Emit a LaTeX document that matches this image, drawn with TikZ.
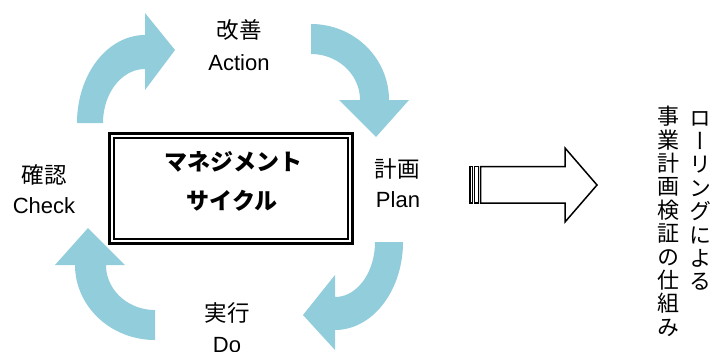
\documentclass[tikz,border=0pt]{standalone}
\usepackage{fontspec}
\setmainfont{Liberation Sans}
\newfontfamily\jp{Noto Sans CJK JP}
\newfontfamily\jpv[RawFeature=+vert]{Noto Sans CJK JP}
\definecolor{cyc}{RGB}{146,205,220}
\begin{document}
\begin{tikzpicture}[x=1pt,y=-1pt,
  lab/.style={inner sep=0pt, font=\fontsize{22}{24}\selectfont},
  jlab/.style={inner sep=0pt, font=\jp\fontsize{22.5}{24}\selectfont},
  core/.style={inner sep=0pt, font=\jp\bfseries\fontsize{23}{24}\selectfont},
  vtext/.style={inner sep=0pt, align=center, font=\jpv\fontsize{22}{23.4}\selectfont},
  cycarrow/.style={fill=cyc, draw=none},
  outline/.style={draw=black, line width=1.5pt, fill=white, line join=miter}]
\useasboundingbox (0,0) rectangle (714,351);
% curved arrows
\fill[cycarrow] plot[domain=180:270,samples=40] ({145+68*cos(\x)},{123+88*sin(\x)})
  -- (145,13) -- (175,50) -- (145,90)
  -- plot[domain=270:180,samples=40] ({145+42*cos(\x)},{123+54*sin(\x)}) -- cycle;
\fill[cycarrow] plot[domain=270:360,samples=40] ({311+78*cos(\x)},{100+76*sin(\x)})
  -- (409,100) -- (376,137) -- (339,100)
  -- plot[domain=360:270,samples=40] ({311+49*cos(\x)},{100+46*sin(\x)}) -- cycle;
\fill[cycarrow] plot[domain=0:90,samples=40] ({335+68*cos(\x)},{242+88*sin(\x)})
  -- (335,350) -- (303,315) -- (335,275)
  -- plot[domain=90:0,samples=40] ({335+40*cos(\x)},{242+55*sin(\x)}) -- cycle;
\fill[cycarrow] plot[domain=90:180,samples=40] ({155+80*cos(\x)},{265+75*sin(\x)})
  -- (55,265) -- (88,228) -- (125,265)
  -- plot[domain=180:90,samples=40] ({155+49*cos(\x)},{265+45*sin(\x)}) -- cycle;
% central box
\draw[line width=2.6pt] (109.4,133.4) rectangle (352.5,243.3);
\draw[line width=2pt] (113.8,137.8) rectangle (347.7,238.5);
\node[core] (mane) at (233,162) {マネジメント};
\node[core] (cycle) at (232,201) {サイクル};
% labels
\node[jlab] (kaizen) at (239,30) {改善};
\node[lab] (action) at (239,63) {Action};
\node[jlab] (kakunin) at (44,175) {確認};
\node[lab] (check) at (44,206) {Check};
\node[jlab] (keikaku) at (397,169) {計画};
\node[lab] (plan) at (398,200) {Plan};
\node[jlab] (jikko) at (227,313) {実行};
\node[lab] (do) at (227,345) {Do};
% striped arrow
\draw[outline] (469.8,166.5) rectangle (472.3,203);
\draw[outline] (474.5,166.5) rectangle (478.3,203);
\draw[outline] (480.5,166.5) -- (565,166.5) -- (565,148) -- (597,185) -- (565,222) -- (565,203) -- (480.5,203) -- cycle;
% vertical text
\node[vtext, anchor=north] (rolling) at (700,111) {ロ\\ー\\リ\\ン\\グ\\に\\よ\\る};
\node[vtext, anchor=north] (shikumi) at (668,106) {事\\業\\計\\画\\検\\証\\の\\仕\\組\\み};
\end{tikzpicture}
\end{document}
